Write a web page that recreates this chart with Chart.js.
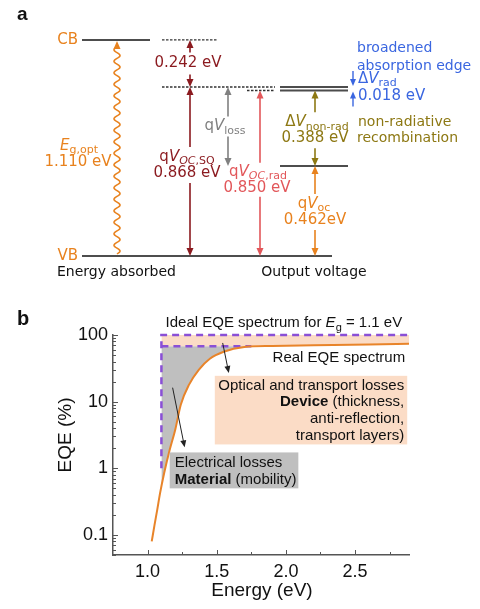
<!DOCTYPE html>
<html>
<head>
<meta charset="utf-8">
<title>Energy losses and EQE</title>
<script src="https://cdn.jsdelivr.net/npm/chart.js@4.4.1/dist/chart.umd.min.js"></script>
<style>
	html, body { margin: 0; padding: 0; background: #fff; }
	#wrap { position: relative; width: 480px; height: 609px; }
	canvas { position: absolute; left: 0; }
	#diagram { top: 0; }
	#eqe { top: 290px; }
</style>
</head>
<body>
<div id="wrap">
	<canvas id="diagram" width="480" height="290"></canvas>
	<canvas id="eqe" width="480" height="319"></canvas>
</div>
<script>
// ------------------------------------------------------------ //
// --------------------        DATA        -------------------- //
// ------------------------------------------------------------ //

// panel a: energies in eV, VB taken as 0
const levelNames = ['CB', 'VB'];
const levelEnergy = [1.110, 0];
const voltageNames = ['qV_OC,SQ', 'qV_OC,rad', 'qV_oc'];
const voltageValues = [0.868, 0.850, 0.462];
const lossNames = ['CB to SQ', 'ΔV_rad', 'ΔV_non-rad'];
const lossValues = [0.242, 0.018, 0.388];

// panel b: EQE (%) against photon energy (eV)
const eqeEnergy = [1.03, 1.05, 1.07, 1.09, 1.12, 1.16, 1.20, 1.24, 1.30, 1.37, 1.45, 1.55, 1.70, 1.90, 2.20, 2.60, 2.90];
const eqeReal = [0.08, 0.14, 0.24, 0.42, 0.85, 1.9, 3.8, 9, 18, 30, 44, 56, 66, 68.5, 70, 72, 74];
const idealEnergy = [1.1, 1.1, 2.9];
const idealEqe = [1, 100, 100];
const lossEdgeEnergy = [1.1, 1.75];
const lossEdgeEqe = [68, 68];
const energyTicks = [1.0, 1.5, 2.0, 2.5];
const eqeTicks = [0.1, 1, 10, 100];

// ------------------------------------------------------------ //
// --------------------       STYLES       -------------------- //
// ------------------------------------------------------------ //

const C = {
	orange: '#e8821e',
	darkRed: '#8b1a1f',
	pink: '#e2575a',
	gray: '#808080',
	olive: '#8d7813',
	blue: '#3a66e0',
	level: '#4d4d4d',
	purple: '#8a4fd6',
	curve: '#e8842a',
	peach: '#fbdcc6',
	lossGray: '#bfbfbf',
};
const FA = 'DejaVu Sans';
const FB = 'Liberation Sans';

// x columns of the level diagram (layout only)
const col = { left: 82, cbEnd: 150, dashStart: 162, dashEnd: 217, sqEnd: 275, radStart: 247, outStart: 280, outEnd: 348, vbEnd: 332, wave: 117, sq: 190, loss: 228, rad: 260, out: 315, edge: 353 };

// parts: 'text' or ['text', style] with style letters i = italic, s = subscript, b = bold
function rich(ctx, parts, x, y, size, color, align, family = FA) {
	const fontOf = (st) =>
		`${st.includes('i') ? 'italic ' : ''}${st.includes('b') ? 'bold ' : ''}${st.includes('s') ? Math.round(size * 0.72) : size}px "${family}"`;
	let w = 0;
	const items = parts.map((p) => {
		const t = typeof p === 'string' ? p : p[0];
		const st = typeof p === 'string' ? '' : p[1];
		ctx.font = fontOf(st);
		const mw = ctx.measureText(t).width;
		w += mw;
		return { t, st, mw };
	});
	let cx = align === 'center' ? x - w / 2 : align === 'right' ? x - w : x;
	ctx.save();
	ctx.fillStyle = color;
	ctx.textAlign = 'left';
	ctx.textBaseline = 'middle';
	for (const it of items) {
		ctx.font = fontOf(it.st);
		ctx.fillText(it.t, cx, y + (it.st.includes('s') ? size * 0.3 : 0));
		cx += it.mw;
	}
	ctx.restore();
}

function arrow(ctx, x0, y0, x1, y1, color, width = 1.6, len = 8, half = 3.5) {
	const a = Math.atan2(y1 - y0, x1 - x0);
	ctx.save();
	ctx.strokeStyle = color;
	ctx.fillStyle = color;
	ctx.lineWidth = width;
	ctx.beginPath();
	ctx.moveTo(x0, y0);
	ctx.lineTo(x1 - Math.cos(a) * (len - 2), y1 - Math.sin(a) * (len - 2));
	ctx.stroke();
	ctx.beginPath();
	ctx.moveTo(x1, y1);
	ctx.lineTo(x1 - Math.cos(a) * len - Math.sin(a) * half, y1 - Math.sin(a) * len + Math.cos(a) * half);
	ctx.lineTo(x1 - Math.cos(a) * len + Math.sin(a) * half, y1 - Math.sin(a) * len - Math.cos(a) * half);
	ctx.closePath();
	ctx.fill();
	ctx.restore();
}

// double headed arrow broken around its label
function splitArrow(ctx, x, yTop, yBot, cy, gap, color) {
	arrow(ctx, x, cy - gap, x, yTop, color);
	arrow(ctx, x, cy + gap, x, yBot, color);
}

function wavy(ctx, x, yBot, yTop, color) {
	ctx.save();
	ctx.strokeStyle = color;
	ctx.lineWidth = 1.6;
	ctx.beginPath();
	for (let t = yBot; t >= yTop + 7; t -= 0.5) {
		const px = x + 3 * Math.sin((2 * Math.PI * (yBot - t)) / 11.5);
		if (t === yBot) ctx.moveTo(px, t);
		else ctx.lineTo(px, t);
	}
	ctx.stroke();
	ctx.restore();
	arrow(ctx, x, yTop + 8, x, yTop, color);
}

// ------------------------------------------------------------ //
// --------------------   PANEL A: LEVELS   -------------------- //
// ------------------------------------------------------------ //

const [eg, vb] = levelEnergy;
const [vSQ, vRad, vOC] = voltageValues;
const [dSQ, dRad, dNon] = lossValues;
const ev = (v) => `${v.toFixed(3)} eV`;
const seg = (x0, x1, e) => [{ x: x0, y: e }, { x: x1, y: e }];
const solid = { borderColor: C.level, borderWidth: 2, pointRadius: 0 };
const dashed = { borderColor: '#333', borderWidth: 1.3, borderDash: [2.5, 1.5], pointRadius: 0 };

const diagramNotes = {
	id: 'diagramNotes',
	afterDatasetsDraw(chart) {
		const { ctx } = chart;
		const Y = (e) => chart.scales.y.getPixelForValue(e);

		rich(ctx, [['a', 'b']], 17, 15, 19, '#111', 'left', FB);

		rich(ctx, [levelNames[0]], 78, Y(eg), 15, C.orange, 'right');
		rich(ctx, [levelNames[1]], 78, Y(vb), 15, C.orange, 'right');

		// photon absorption
		wavy(ctx, col.wave, Y(vb) - 2, Y(eg) + 1, C.orange);
		const cg = Y(eg / 2);
		rich(ctx, [['E', 'i'], ['g,opt', 's']], 79, cg - 2, 15, C.orange, 'center');
		rich(ctx, [ev(eg)], 78, cg + 14, 15, C.orange, 'center');

		// CB to SQ limit
		let c = (Y(eg) + Y(vSQ)) / 2;
		splitArrow(ctx, col.sq, Y(eg), Y(vSQ), c, 11, C.darkRed);
		rich(ctx, [ev(dSQ)], 188, c, 15, C.darkRed, 'center');

		// SQ open circuit voltage
		c = (Y(vSQ) + Y(vb)) / 2 - 6.5;
		splitArrow(ctx, col.sq, Y(vSQ), Y(vb), c, 18, C.darkRed);
		rich(ctx, ['q', ['V', 'i'], ['OC', 'si'], [',SQ', 's']], 187, c - 8, 15, C.darkRed, 'center');
		rich(ctx, [ev(vSQ)], 187, c + 8, 15, C.darkRed, 'center');

		// total loss
		c = (Y(vSQ) + Y(vOC)) / 2;
		splitArrow(ctx, col.loss, Y(vSQ), Y(vOC), c, 10, C.gray);
		rich(ctx, ['q', ['V', 'i'], ['loss', 's']], 225, c, 15, C.gray, 'center');

		// radiative limit
		c = (Y(vRad) + Y(vb)) / 2 + 6.5;
		splitArrow(ctx, col.rad, Y(vRad), Y(vb), c, 17, C.pink);
		rich(ctx, ['q', ['V', 'i'], ['OC', 'si'], [',rad', 's']], 258, c - 8, 15, C.pink, 'center');
		rich(ctx, [ev(vRad)], 257, c + 8, 15, C.pink, 'center');

		// non-radiative loss
		c = (Y(vRad) + Y(vOC)) / 2 + 2;
		splitArrow(ctx, col.out, Y(vRad), Y(vOC), c, 18, C.olive);
		rich(ctx, ['Δ', ['V', 'i'], ['non-rad', 's']], 317, c - 8, 15, C.olive, 'center');
		rich(ctx, [ev(dNon)], 315, c + 8, 15, C.olive, 'center');
		rich(ctx, ['non-radiative'], 358, c - 8, 14, C.olive, 'left');
		rich(ctx, ['recombination'], 357, c + 8, 14, C.olive, 'left');

		// measured Voc
		c = (Y(vOC) + Y(vb)) / 2 + 1;
		splitArrow(ctx, col.out, Y(vOC), Y(vb), c, 18, C.orange);
		rich(ctx, ['q', ['V', 'i'], ['oc', 's']], 314, c - 8, 15, C.orange, 'center');
		rich(ctx, [`${vOC.toFixed(3)}eV`], 315, c + 8, 15, C.orange, 'center');

		// broadened absorption edge
		arrow(ctx, col.edge, Y(vSQ) - 16, col.edge, Y(vSQ) - 1, C.blue, 1.4, 7, 3);
		arrow(ctx, col.edge, Y(vRad) + 16, col.edge, Y(vRad) + 1, C.blue, 1.4, 7, 3);
		rich(ctx, ['broadened'], 357, 48, 14, C.blue, 'left');
		rich(ctx, ['absorption edge'], 357, 66, 14, C.blue, 'left');
		rich(ctx, ['Δ', ['V', 'i'], ['rad', 's']], 358, Y(vSQ) - 8, 15, C.blue, 'left');
		rich(ctx, [ev(dRad)], 358, Y(vRad) + 6, 15, C.blue, 'left');

		rich(ctx, ['Energy absorbed'], 57, 272, 14, '#111', 'left');
		rich(ctx, ['Output voltage'], 314, 272, 14, '#111', 'center');
	},
};

new Chart(document.getElementById('diagram'), {
	type: 'line',
	data: {
		datasets: [
			{ data: seg(col.left, col.cbEnd, eg), ...solid },
			{ data: seg(col.dashStart, col.dashEnd, eg), ...dashed },
			{ data: seg(col.dashStart, col.sqEnd, vSQ), ...dashed },
			{ data: seg(col.radStart, col.sqEnd, vRad), ...dashed },
			{ data: seg(col.outStart, col.outEnd, vSQ), ...solid },
			{ data: seg(col.outStart, col.outEnd, vRad), ...solid },
			{ data: seg(col.outStart, col.outEnd, vOC), ...solid },
			{ data: seg(col.left, col.vbEnd, vb), ...solid },
		],
	},
	options: {
		responsive: false,
		animation: false,
		layout: { padding: 0 },
		plugins: { legend: { display: false }, tooltip: { enabled: false } },
		scales: {
			x: { type: 'linear', display: false, min: 0, max: 480 },
			y: { type: 'linear', display: false, min: -0.175, max: 1.315 },
		},
	},
	plugins: [diagramNotes],
});

// ------------------------------------------------------------ //
// --------------------    PANEL B: EQE    -------------------- //
// ------------------------------------------------------------ //

const pts = (xs, ys) => xs.map((v, i) => ({ x: v, y: ys[i] }));
const realPts = pts(eqeEnergy, eqeReal);
const lossTop = lossEdgeEqe[0];
const lossBoundary = [{ x: idealEnergy[0], y: lossTop }, ...realPts.filter((p) => p.y >= lossTop)];

const eqeNotes = {
	id: 'eqeNotes',
	afterDatasetsDraw(chart) {
		const { ctx, chartArea: area } = chart;
		const X = (v) => chart.scales.x.getPixelForValue(v);
		const Y = (v) => chart.scales.y.getPixelForValue(v);

		// inward tick marks
		ctx.save();
		ctx.strokeStyle = '#555';
		ctx.lineWidth = 1;
		ctx.beginPath();
		for (let v = 1.0; v < 2.89; v += 0.25) {
			const px = Math.round(X(v)) + 0.5;
			const len = energyTicks.some((t) => Math.abs(t - v) < 1e-6) ? 5 : 3;
			ctx.moveTo(px, area.bottom);
			ctx.lineTo(px, area.bottom - len);
		}
		for (let d = -2; d <= 2; d++) {
			for (let k = 1; k <= 9; k++) {
				const v = k * Math.pow(10, d);
				if (v < 0.05 - 1e-9 || v > 100 + 1e-9) continue;
				const py = Math.round(Y(v)) + 0.5;
				ctx.moveTo(area.left, py);
				ctx.lineTo(area.left + (k === 1 ? 5 : 3), py);
			}
		}
		ctx.stroke();
		ctx.restore();

		// device losses box
		const bx0 = X(1.486), bx1 = X(2.877), by0 = Y(24.4), by1 = Y(2.28);
		ctx.fillStyle = C.peach;
		ctx.fillRect(bx0, by0, bx1 - bx0, by1 - by0);
		rich(ctx, ['Optical and transport losses'], bx1 - 3, by0 + 10, 15, '#111', 'right', FB);
		rich(ctx, [['Device', 'b'], ' (thickness,'], bx1 - 3, by0 + 26, 15, '#111', 'right', FB);
		rich(ctx, ['anti-reflection,'], bx1 - 3, by0 + 43, 15, '#111', 'right', FB);
		rich(ctx, ['transport layers)'], bx1 - 3, by0 + 60, 15, '#111', 'right', FB);

		// material losses box
		const gx0 = X(1.16), gx1 = X(2.09), gy0 = Y(1.73), gy1 = Y(0.5);
		ctx.fillStyle = C.lossGray;
		ctx.fillRect(gx0, gy0, gx1 - gx0, gy1 - gy0);
		rich(ctx, ['Electrical losses'], gx0 + 5, gy0 + 10, 15, '#111', 'left', FB);
		rich(ctx, [['Material', 'b'], ' (mobility)'], gx0 + 5, gy0 + 27, 15, '#111', 'left', FB);

		arrow(ctx, X(1.543), Y(76), X(1.587), Y(27), '#222', 1, 7, 3);
		arrow(ctx, X(1.181), Y(16.2), X(1.268), Y(2.06), '#222', 1, 7, 3);

		rich(ctx, ['Ideal EQE spectrum for ', ['E', 'i'], ['g', 's'], ` = ${idealEnergy[0]} eV`], X(1.13), area.top - 12, 15, '#111', 'left', FB);
		rich(ctx, ['Real EQE spectrum'], X(2.862), Y(45), 15, '#111', 'right', FB);

		// panel letter and axis titles
		rich(ctx, [['b', 'b']], 17, 29, 20, '#111', 'left', FB);
		rich(ctx, ['Energy (eV)'], (area.left + area.right) / 2 + 1, 301, 19, '#111', 'center', FB);
		ctx.save();
		ctx.translate(66, 145);
		ctx.rotate(-Math.PI / 2);
		rich(ctx, ['EQE (%)'], 0, 0, 19, '#111', 'center', FB);
		ctx.restore();
	},
};

new Chart(document.getElementById('eqe'), {
	type: 'line',
	data: {
		datasets: [
			{
				label: 'Real EQE spectrum',
				data: realPts,
				borderColor: C.curve,
				borderWidth: 2,
				pointRadius: 0,
				cubicInterpolationMode: 'monotone',
				fill: false,
			},
			{
				label: 'Ideal EQE spectrum',
				data: pts(idealEnergy, idealEqe),
				borderColor: C.purple,
				borderWidth: 2.5,
				borderDash: [7, 5],
				pointRadius: 0,
				fill: false,
				clip: false,
			},
			{
				label: 'Loss edge',
				data: pts(lossEdgeEnergy, lossEdgeEqe),
				borderColor: C.purple,
				borderWidth: 2.5,
				borderDash: [7, 5],
				pointRadius: 0,
				fill: false,
			},
			{
				label: 'Device losses',
				data: pts([idealEnergy[1], idealEnergy[2]], [idealEqe[1], idealEqe[2]]),
				borderWidth: 0,
				pointRadius: 0,
				fill: { target: 4, above: C.peach, below: C.peach },
			},
			{
				label: 'Material losses',
				data: lossBoundary,
				borderWidth: 0,
				pointRadius: 0,
				fill: { target: 0, above: C.lossGray, below: 'rgba(0,0,0,0)' },
			},
		],
	},
	options: {
		responsive: false,
		animation: false,
		layout: { padding: { top: 45, right: 71, left: 0, bottom: 0 } },
		plugins: { legend: { display: false }, tooltip: { enabled: false } },
		scales: {
			x: {
				type: 'linear',
				min: 0.75,
				max: 2.89,
				afterBuildTicks: (s) => { s.ticks = energyTicks.map((v) => ({ value: v })); },
				afterFit: (s) => { s.height = 54; },
				grid: { display: false, drawTicks: false },
				border: { display: true, color: '#555', width: 1.5 },
				ticks: { padding: 6, color: '#111', font: { family: FB, size: 18 }, callback: (v) => Number(v).toFixed(1) },
			},
			y: {
				type: 'logarithmic',
				min: 0.05,
				max: 100,
				afterBuildTicks: (s) => { s.ticks = eqeTicks.map((v) => ({ value: v })); },
				afterFit: (s) => { s.width = 113; },
				grid: { display: false, drawTicks: false },
				border: { display: true, color: '#555', width: 1.5 },
				ticks: { padding: 5, color: '#111', font: { family: FB, size: 18 }, callback: (v) => String(v) },
			},
		},
	},
	plugins: [eqeNotes],
});
</script>
</body>
</html>
